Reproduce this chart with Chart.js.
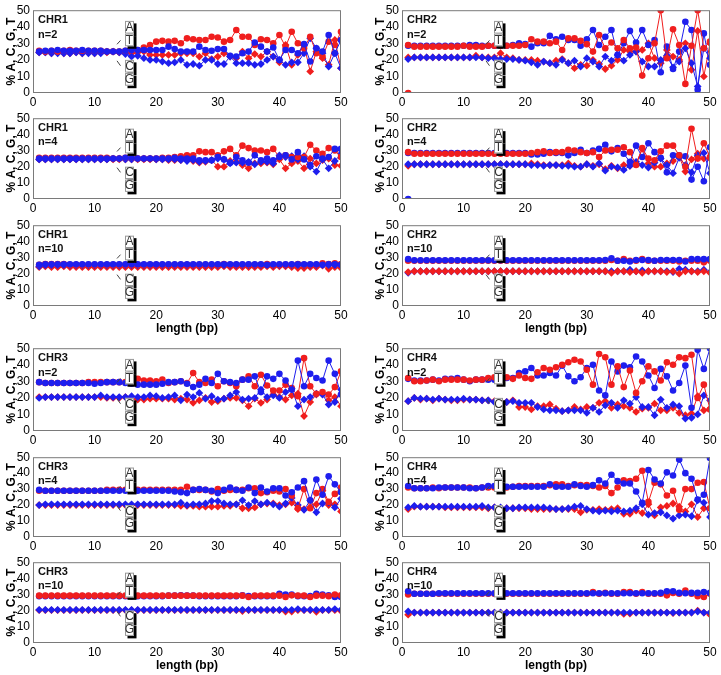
<!DOCTYPE html>
<html>
<head>
<meta charset="utf-8">
<script src="https://cdn.jsdelivr.net/npm/chart.js@4.4.0/dist/chart.umd.min.js"></script>
<style>
  body { margin: 0; background: #fff; width: 721px; height: 675px; overflow: hidden; position: relative; }
  canvas { position: absolute; }
</style>
</head>
<body>
<script>
// x positions (bp)
const lengthBp = [1,2,3,4,5,6,7,8,9,10,11,12,13,14,15,16,17,18,19,20,21,22,23,24,25,26,27,28,29,30,
  31,32,33,34,35,36,37,38,39,40,41,42,43,44,45,46,47,48,49,50];
const yTickStep = 10;
const xTickStep = 10;

// ---- CHR1 ----
const chr1n2A = [25.5,25,25.5,25,25.5,26,25.5,25.5,25.5,25.5, 25.5,25,25,25,25.5,26,26,27.5,29,31,
  31.5,31,31.5,30,33,32.5,32,32,34,33.5, 31,32,38,34,34,29,32.5,32,30,35, 28,37,30,27,34,24,22,31,29,37];
const chr1n2T = [25,25.5,25.5,26,25.5,25.5,25.5,26,25.5,25.5, 25.5,25,25,25,25.5,26,26,26,26,26,
  26,28,26.5,25,25,25,28,26,25.5,26.5, 26.5,22.5,22,24,25,30.5,28,25,27.5,20, 26,26,24,29.5,19,27,25,35,24,32];
const chr1n2C = [24.5,24.5,24,24.5,24,24,24.5,24,24.5,24, 24.5,24.5,25,24.5,24.5,24,24.5,25,23,23,
  23,23,23,24,24,24,22,24,20.5,22, 24,22,21,25,21,23.5,22,25,22,18.5, 29,17,23,29,13,25,21,17,32,15];
const chr1n2G = [24.5,24.5,24,24,24,24,24.5,24,24,24, 24,25,25,24.5,23.5,22,22.5,21,20,20,
  19,18,18.5,20,17,17.5,16.5,20,20,17.5, 17.5,22,18,18,18,17,17.5,20,22,20, 17,18.5,18.5,24,33,27,24,16,24,15];

const chr1n4A = [25.5,25.5,25.5,25.5,25.5,25.5,25.5,25.5,25.5,25.5, 25.5,25.5,25,25,25.5,25.5,25,25,25,25,
  25.5,25.5,26,26.5,27,27,29.5,29,29,27, 29.5,31,27,33,31.5,30,30,29,31,26, 27,26,26,26,33.5,30,28,31.5,30,26];
const chr1n4T = [25,25,25,25,25,25,25,25,25,25, 25,25,25,25,25.5,25.5,25,25,25,25,
  25,25,25.5,25,25,25,24,24,24,26, 24.5,22.5,26,24,22.5,27,24,25,24,26, 27,24.5,29,24.5,21,26.5,25,26,31,31];
const chr1n4C = [24.5,24.5,24.5,24.5,24.5,24.5,24.5,24.5,24.5,24.5, 24.5,24.5,24.5,24.5,24.5,24.5,24.5,24.5,24.5,24.5,
  24.5,24,24,24,24,23.5,22.5,23,24,20, 20,23.5,23,21,19,22,22,22.5,21.5,24.5, 19,22,23.5,19,25,22,24,25,21,20.5];
const chr1n4G = [24.5,24.5,24.5,24.5,24.5,24.5,24.5,24.5,24.5,24.5, 24.5,24.5,25,25,24.5,24.5,25,25,25,24.5,
  24.5,24.5,24.5,24,23.5,24,23,23.5,24,25, 24.5,22,22.5,22.5,23,21.5,23,23,22,27, 26,26.5,24.5,26.5,20,17,24.5,19,23.5,28];

const chr1n10A = [25.5,26,26,26,26,25.5,25.5,25.5,25.5,25.5, 25.5,25.5,25.5,25.5,25.5,25.5,25.5,25.5,25.5,25.5,
  25.5,25.5,25.5,25.5,25.5,25.5,25.5,25.5,25.5,25.5, 26,25.5,25.5,25.5,25.5,25.5,25.5,26,25.5,25.5, 25.5,25.5,26,25.5,25.5,25.5,26.5,26,26.5,26];
const chr1n10T = [25.5,25.8,25.8,25.8,25.8,25.8,25.8,25.8,25.8,25.8, 25.8,25.8,25.8,25.8,25.8,25.8,25.8,25.8,25.8,25.8,
  25.8,25.8,25.8,25.8,25.8,25.8,25.8,25.8,25.8,25.8, 25.8,25.8,25.8,25.8,25.8,25.8,25.8,25.5,25.8,25.8, 25.8,25.8,25.8,25.8,25.8,25.8,25.5,25.8,25.8,25.5];
const chr1n10C = [24,24.5,24,24,24.5,24,24,24,24,24, 24,24,24,24,24,24,24,24,24,24,
  24,24,24,24,24,24,24,24,24,24, 24.5,24,24,24,24,24,24,24.5,24,24.5, 24.5,24,23.5,23.5,24,24,25,23,24,23.5];
const chr1n10G = [24.5,25.3,25.3,25.3,25.3,25.3,25.3,25.3,25.3,25.3, 25.3,25.3,25.3,25.3,25.3,25.3,25.3,25.3,25.3,25.3,
  25.3,25.3,25.3,25.3,25.3,25.3,25.3,25.3,25.3,25.3, 25.3,25.3,25.3,25.3,25.3,25.3,25.3,25.3,25.3,25.3, 25.3,25.3,25.3,25.3,25.3,25.3,25.3,25.3,25.3,25.3];

// ---- CHR2 ----
const chr2n2A = [29,28,28,28,28,28,28,28,28,28.5, 28,28,28,28.5,28.5,28.5,28.5,28.5,28.5,29,
  32.5,31,31,30,31,26,33,33,31.5,29.5, 25,35,27,30.5,27,32,27,27.5,10.5,21, 30,50,21,38.5,29,5.5,28.5,50,27,31];
const chr2n2T = [28.5,28.5,28.5,28.5,28.5,28.5,28.5,28.5,28.5,28.5, 29,29,28.5,28.5,28.5,28.5,28.5,29,30,29.5,
  28,30,30,34.5,32.5,34,32,32,28.5,32.5, 38,29,34,38,23,30,37.5,30.5,38,29, 32,12.5,28,14.5,25,43,38,2,36,17];
const chr2n2C = [21.5,21.5,21.5,21.5,21.5,21.5,21.5,21.5,21.5,21.5, 21.5,22.5,21.5,21.5,21.5,24,21.5,21,20,20,
  20,19.5,19,18,19.5,20.5,18,15,17,16.5, 20,17.5,14.5,16.5,20,26,25,25,26,30, 21,18,26,22,20,30,14,37.5,10,30];
const chr2n2G = [20.5,21.5,21.5,21.5,21.5,21.5,21.5,21.5,21.5,21.5, 21.5,21.5,21.5,21,21,20.5,20.5,20.5,20,19.5,
  18.5,17,19,18,17,20,18,19.5,16,21, 19,16,22,19.5,23,19.5,23,25,19,16, 16,20,22.5,15.5,19,27,18,4,27,21];
const chr2n2Dropout = [0];

const chr2n4A = [29,28,28,28,28,28,28,28,28,28, 28,28,28,28,28,28,28,28,28,28,
  28.5,29,29.5,28.5,29,29,30.5,30,29,28.5, 29,26,30,30.5,30.5,32,29,21,31.5,25, 24,29.5,33,33,27,20,43.5,25,34.5,26];
const chr2n4T = [28.5,28.5,28.5,28.5,28.5,28.5,28.5,28.5,28.5,28.5, 28.5,28.5,28.5,28.5,28.5,28.5,28.5,28.5,28.5,28.5,
  27.5,27.5,28,29,28.5,28.5,27,28.5,30.5,28.5, 30,31,33.5,29.5,31.5,28,23,33,26,34.5, 29,25.5,16.5,27,27,26.5,12,20,11,32];
const chr2n4C = [20.5,21.5,21.5,21.5,21.5,21.5,21.5,21.5,21.5,21.5, 21.5,21.5,21.5,21.5,21.5,21.5,21.5,21.5,21.5,21.5,
  22,21.5,21,21,21,21,22,20.5,20,21.5, 20.5,21.5,18.5,20.5,19,21,20.5,22,31,22, 20,20,22,23.5,26,17,24.5,28,25,25];
const chr2n4G = [21.5,21.5,21.5,21.5,21.5,21.5,21.5,21.5,21.5,21.5, 21.5,21.5,21.5,21.5,21.5,21.5,21.5,21.5,21.5,21.5,
  21,21,20.5,21,21,20.5,20.5,20,20,21.5, 20,22,17.5,20,19.5,18,20.5,23,21,19.5, 22.5,25,21,16,25.5,21,16.5,27,28.5,16];
const chr2n4Dropout = [0];

const chr2n10A = [28,28,28,28,28,28,28,28,28,28, 28,28,28,28,28,28,28,28,28,28,
  28,28,28,28,28,28,28,28,28,28, 28,28,28,28.5,28,29,28,28,29,28, 28,28,28,28,27.5,28,28,28,27,28];
const chr2n10T = [29,28.3,28.3,28.3,28.3,28.3,28.3,28.3,28.3,28.3, 28.3,28.3,28.3,28.3,28.3,28.3,28.3,28.3,28.3,28.3,
  28.3,28.3,28.3,28.3,28.3,28.3,28.3,28.3,28.3,28.3, 28.3,28.3,28.5,29.5,28,28,27.5,28.5,28.5,28.5, 28,28.5,28.5,28.5,28.5,27.5,29,29,29,29];
const chr2n10C = [21,21.5,21.5,21.5,21.5,21.5,21.5,21.5,21.5,21.5, 21.5,21.5,21.5,21.5,21.5,21.5,21.5,21.5,21.5,21.5,
  21.5,21.5,21.5,21.5,21.5,21.5,21.5,21.5,21.5,21.5, 21.5,21.5,21.5,20.5,21.5,21.5,21,21.5,20.5,21.5, 21.5,21.5,21,21.5,20,21.5,21.5,21,21.5,20.5];
const chr2n10G = [20.5,21.5,21.5,21.5,21.5,21.5,21.5,21.5,21.5,21.5, 21.5,21.5,21.5,21.5,21.5,21.5,21.5,21.5,21.5,21.5,
  21.5,21.5,21.5,21.5,21.5,21.5,21.5,21.5,21.5,21.5, 21.5,21.5,21.5,21.5,21.5,21.5,22.5,21.5,22,21.5, 21.5,21.5,21.5,21,23,22.5,21.5,21.5,22.5,21];

// ---- CHR3 ----
const chr3n2A = [29.5,29,29,29,29,29,29,29,29.5,29.5, 29.5,29.5,29.5,29.5,29.5,30.5,31.5,30.5,30.5,30,
  31,29,29.5,30,29,35,29.5,29,31,27, 30,29,27,31,33,27,34,27.5,24.5,24.5, 28,26,21,44,27,22.5,23.5,22,26.5,36];
const chr3n2T = [29.5,29,29,29,29,29,29,29,29,28.5, 29,29.5,29.5,29.5,29,28.5,28,28,28,28,
  28.5,29.5,29.5,30,28.5,26.5,28,31.5,29,34.5, 30,29.5,29,31,31,33,23.5,33,31.5,34.5, 30.5,25,42.5,27,34.5,32,30.5,42.5,34.5,22];
const chr3n2C = [20.5,20.5,20.5,20.5,20.5,20.5,20.5,20.5,20.5,20.5, 20.5,20,20,20,20.5,19.5,19,19,19.5,19.5,
  19.5,19.5,19,19.5,19,17,18.5,20,17.5,18, 19.5,20,20,18.5,15,19.5,17,19,22,20.5, 19,21.5,22.5,9,17.5,22,22.5,18.5,20.5,15];
const chr3n2G = [20,20.5,20.5,20.5,20.5,20.5,20.5,20.5,20.5,20.5, 21.5,20.5,20.5,20.5,20.5,21,20.5,20.5,21.5,21,
  20,20.5,21.5,18.5,22,20.5,23,19.5,21,19, 19.5,21.5,23.5,19,19.5,20,25,20.5,21.5,20, 23.5,25.5,15,19,20.5,22.5,22,16,17.5,25];

const chr3n4A = [29,29,29,29,29,29,29,29,29,29, 29,29.5,29.5,29.5,29.5,29.5,29.5,29.5,29.5,29.5,
  29.5,29.5,29.5,29.5,31.5,29.5,29.5,29.5,28.5,30, 29,29.5,29.5,29.5,30.5,30.5,27.5,28,29,28.5, 30,26,18,30,18,27.5,30,22,27,31];
const chr3n4T = [29.5,29,29,29,29,29,29,29,29,29, 29,29,29,29,29,29,29,29,29,29,
  29,29,28.5,28,27.5,29.5,30,29.5,29,27.5, 29.5,31,29.5,29,31,27.5,31,28.5,30.5,30.5, 26,28,31,35,23,36,26.5,38,33,28];
const chr3n4C = [20,20,20,20,20,20,20,20,20,20, 20,20,20,20,20,20,20,20,20,20,
  20,20,20,19.5,19.5,19.5,19,19,19,19, 19.5,19.5,20.5,18,18,18.5,20.5,21,21,20, 20.5,21.5,17.5,17.5,18.5,20.5,29,20,20.5,16];
const chr3n4G = [20,20.5,20.5,20.5,20.5,20.5,20.5,20.5,20.5,20.5, 20.5,20.5,20.5,20.5,20.5,20.5,20.5,20.5,20.5,20.5,
  20.5,20.5,20.5,21.5,20,20.5,20.5,21,22.5,22.5, 21,20.5,20.5,23,20,22.5,20.5,21.5,20.5,19, 21,24.5,20,17,23,15.5,21,21.5,18.5,24];

const chr3n10A = [29.3,29.3,29.3,29.3,29.3,29.3,29.3,29.3,29.3,29.3, 29.3,29.3,29.3,29.3,29.3,29.3,29.3,29.3,29.3,29.3,
  29.3,29.3,29.3,29.3,29.3,29.3,29.3,29.3,29.3,29.3, 29.3,29.3,29.3,29.3,28.5,29.3,29.3,29.3,29.3,29.3, 28.5,29.5,29.3,29.3,28.5,29.3,29.3,29,30,29.5];
const chr3n10T = [29,29,29,29,29,29,29,29,29,29, 29,29,29,29,29,29,29,29,29,29,
  29,29.3,29.3,29.5,29.3,29.3,29,29,29,29, 29,29,29,29.5,29,29,29,29,29,30.5, 30,30,29,29,29,30.5,30,29.5,28.5,28.5];
const chr3n10C = [20.3,20.3,20.3,20.3,20.3,20.3,20.3,20.3,20.3,20.3, 20.3,20.3,20.3,20.3,20.3,20.3,20.3,20.3,20.3,20.3,
  20.3,20.3,20.3,20.3,20.3,20.3,20.3,20.3,20.3,20.3, 20.3,20.3,20.3,19.8,20.3,20.3,20.3,20.3,20.3,20.3, 19.5,19.5,20.3,20.3,20.3,19.3,20.3,20.3,20.3,19.8];
const chr3n10G = [20.5,20.5,20.5,20.5,20.5,20.5,20.5,20.5,20.5,20.5, 20.5,20.5,20.5,20.5,20.5,20.5,20.5,20.5,20.5,20.5,
  20.5,20.5,20.5,20.5,20.5,20.5,20.5,20.5,20.5,20.5, 20.5,20.5,20.5,20.5,20.5,20.5,20.5,20.5,20.5,20.5, 20.5,20.5,21,20.5,20.5,20.5,20.5,20.5,21,20.5];

// ---- CHR4 ----
const chr4n2A = [32,30,30,30.5,31,30,31,31,31,31, 30.5,31,31,32,32.5,32.5,32.5,31.5,33.5,32,
  31.5,35.5,38,37,38.5,40,41.5,43,42,37, 28,46.5,44.5,28,39,26.5,36.5,23,30,39, 36,30.5,41.5,40,44.5,44,46,20,28,13];
const chr4n2T = [31.5,30.5,30.5,30.5,31,30.5,31.5,31.5,32,31, 30,31,31,31,31,31.5,32,32,35,36,
  38,33.5,33.5,35,33.5,39.5,33,30,32.5,38, 40,24.5,21.5,42,36,39.5,38.5,45,42,33.5, 26,37.5,33,24.5,29,39.5,14,49,37.5,50];
const chr4n2C = [18,20,19,19.5,18.5,19.5,19,18.5,18.5,19, 19,19,18.5,18.5,18,17.5,17.5,18.5,14.5,14.5,
  13,15,15,16,13.5,12,12.5,14.5,13,14.5, 14,17,18,14,16,15,14,11.5,13.5,14, 16.5,12.5,12.5,14,11,9.5,10.5,21,12.5,13.5];
const chr4n2G = [18,20,19.5,19.5,19,19.5,19,19,19,19.5, 19,19,18.5,18.5,17.5,17,17.5,18,17,17,
  17,14.5,13,12.5,12.5,12,12.5,12.5,12.5,11, 14,11.5,15.5,17,14,18.5,16.5,20.5,14.5,14.5, 9.5,19,14,16,15,7.5,8,10,21.5,18.5];

const chr4n4A = [31,30.5,30.5,30.5,31,30.5,31,31,31,31, 31,30.5,31,31,31,31.5,31,31.5,32,32,
  32,32,32,32.5,33,33,32,32.5,32.5,32.5, 32,31,32,27.5,31,35.5,35,36.5,41.5,22, 34,33,26,29,17,30,30,34,34.5,18];
const chr4n4T = [32,30.5,30.5,30.5,30.5,31,31,31,31,31, 30.5,30.5,31,32,32,31.5,31.5,31.5,31.5,31.5,
  31.5,31.5,31.5,33,31.5,31.5,31.5,33,32,31.5, 32.5,35.5,33.5,39,35,33.5,33.5,28.5,21.5,42, 36,33.5,40.5,38.5,48.5,40,36.5,23.5,26.5,49.5];
const chr4n4C = [17.5,19,19,19,19,19,18.5,18.5,18.5,18.5, 18.5,18.5,18.5,18,18.5,18,18,18,18,18,
  17.5,17.5,17.5,17.5,17.5,17.5,17.5,17.5,15.5,17, 17,17.5,17,17.5,18,14.5,14.5,16.5,15,20.5, 13.5,18.5,19.5,21,19,16,20.5,12.5,18,18];
const chr4n4G = [18.5,19.5,19,19,19,19,19,19,19,19, 19,19,19.5,18.5,18.5,18.5,18,18,18.5,18.5,
  18.5,18.5,18.5,18,17.5,17.5,18,19,19.5,17.5, 16.5,16,16.5,16,16.5,16,16.5,18,20.5,14, 15,15.5,13.5,11.5,13.5,14,13,23,21.5,12.5];

const chr4n10A = [30,30.5,30.5,30.5,30.5,30.5,30.5,30.5,30.5,30.5, 30.5,30.5,30.5,30.5,30.5,30.5,30.5,30.5,30.5,30.5,
  30.5,30.5,30.5,30.5,30.5,30.5,30.5,30.5,30.5,30.5, 31.5,30.5,31,30.5,30.5,31.5,31.5,30.5,31.5,30.5, 30.5,30.5,29.5,31,30.5,32.5,30.5,29,28.5,30.5];
const chr4n10T = [32,30.5,30.5,30.5,30.5,30.8,30.8,30.8,30.8,30.8, 30.8,30.8,30.8,30.8,30.8,30.8,30.8,30.8,30.8,30.8,
  30.8,30.8,30.8,30.8,30.8,30.8,30.8,30.8,30.8,30.8, 30.8,30.8,30.8,30.8,30.8,30.8,30.8,30.8,30.8,30.8, 30.8,31,32,32,31,30.8,31,31,31.5,31];
const chr4n10C = [17.5,18.8,18.8,18.8,18.8,18.8,18.8,18.8,18.8,18.8, 18.8,18.8,18.8,18.8,18.8,18.8,18.8,18.8,18.8,18.8,
  18.8,18.8,18.8,18.8,18.8,18.8,18.8,18.8,18.8,18.8, 18.8,18.8,18.8,18.8,18.8,18,18.2,18.8,18.8,18.8, 18.8,18.8,18.8,18.5,18.8,18.8,18.8,20,18.8,17.5];
const chr4n10G = [19.5,18.8,18.8,18.8,18.8,18.8,18.8,18.8,18.8,18.8, 18.8,18.8,18.8,18.8,18.8,18.8,18.8,18.8,18.8,18.8,
  18.8,18.8,18.8,18.8,18.8,18.8,18.8,18.8,18.8,18.8, 18.8,18.8,18.8,18.8,18.8,18.8,18.8,18.8,18.8,18.8, 18.8,18.8,18.8,18.8,18.8,18.8,18.8,19.5,18.8,18.8];

const RED = '#f01e1e';
const BLUE = '#1e1eee';
const FONT = 'Arial, "Liberation Sans", sans-serif';

// plot-area geometry of the grid
const colLeft = [33, 402];
const rowTop = [8, 116, 223, 346, 455, 560];
const rowH = [85, 83, 83, 85, 82, 83];
const rowTitle = [false, false, true, false, false, true];
const plotW = 308;

// redTop: [upper pair, lower pair] - which colour sits on top
const panels = [
  { chr: 'CHR1', n: 'n=2',  col: 0, row: 0, A: chr1n2A,  T: chr1n2T,  C: chr1n2C,  G: chr1n2G,  redTop: [false, false] },
  { chr: 'CHR1', n: 'n=4',  col: 0, row: 1, A: chr1n4A,  T: chr1n4T,  C: chr1n4C,  G: chr1n4G,  redTop: [false, false] },
  { chr: 'CHR1', n: 'n=10', col: 0, row: 2, A: chr1n10A, T: chr1n10T, C: chr1n10C, G: chr1n10G, redTop: [false, false] },
  { chr: 'CHR2', n: 'n=2',  col: 1, row: 0, A: chr2n2A,  T: chr2n2T,  C: chr2n2C,  G: chr2n2G,  redTop: [true, false], drop: chr2n2Dropout, dropColor: RED },
  { chr: 'CHR2', n: 'n=4',  col: 1, row: 1, A: chr2n4A,  T: chr2n4T,  C: chr2n4C,  G: chr2n4G,  redTop: [true, false], drop: chr2n4Dropout, dropColor: BLUE },
  { chr: 'CHR2', n: 'n=10', col: 1, row: 2, A: chr2n10A, T: chr2n10T, C: chr2n10C, G: chr2n10G, redTop: [false, true] },
  { chr: 'CHR3', n: 'n=2',  col: 0, row: 3, A: chr3n2A,  T: chr3n2T,  C: chr3n2C,  G: chr3n2G,  redTop: [false, false] },
  { chr: 'CHR3', n: 'n=4',  col: 0, row: 4, A: chr3n4A,  T: chr3n4T,  C: chr3n4C,  G: chr3n4G,  redTop: [false, false] },
  { chr: 'CHR3', n: 'n=10', col: 0, row: 5, A: chr3n10A, T: chr3n10T, C: chr3n10C, G: chr3n10G, redTop: [true, false] },
  { chr: 'CHR4', n: 'n=2',  col: 1, row: 3, A: chr4n2A,  T: chr4n2T,  C: chr4n2C,  G: chr4n2G,  redTop: [true, false] },
  { chr: 'CHR4', n: 'n=4',  col: 1, row: 4, A: chr4n4A,  T: chr4n4T,  C: chr4n4C,  G: chr4n4G,  redTop: [false, false] },
  { chr: 'CHR4', n: 'n=10', col: 1, row: 5, A: chr4n10A, T: chr4n10T, C: chr4n10C, G: chr4n10G, redTop: [false, false] }
];

function toPoints(values) {
  return values.map((v, i) => ({ x: lengthBp[i], y: v }));
}

function series(values, color, shape, order) {
  const r = shape === 'rectRot' ? 3.9 : 3.3;
  return {
    data: toPoints(values),
    borderColor: color,
    backgroundColor: color,
    borderWidth: 1,
    pointStyle: shape,
    pointRadius: r,
    pointBorderWidth: 0,
    order: order
  };
}

// frame, panel label and the A/T, C/G boxes
function makeDeco(p) {
  return {
    id: 'deco',
    afterDraw(chart) {
      const { ctx, chartArea: a } = chart;
      const w = a.right - a.left, h = a.bottom - a.top, k = h / 85;
      ctx.save();
      ctx.strokeStyle = '#7a7a7a';
      ctx.lineWidth = 1;
      ctx.strokeRect(a.left + 0.5, a.top + 0.5, w - 1, h - 1);

      ctx.fillStyle = '#111';
      ctx.font = 'bold 11px ' + FONT;
      ctx.textAlign = 'left';
      ctx.textBaseline = 'middle';
      ctx.fillText(p.chr, a.left + 5, a.top + 10 * k);
      ctx.fillText(p.n, a.left + 5, a.top + 25 * k);

      // little pointer strokes
      ctx.strokeStyle = '#444';
      ctx.beginPath();
      ctx.moveTo(a.left + 84, a.top + 35 * k);
      ctx.lineTo(a.left + 87.5, a.top + 31 * k);
      ctx.moveTo(a.left + 84, a.top + 52 * k);
      ctx.lineTo(a.left + 87.5, a.top + 57 * k);
      ctx.stroke();

      const bx = a.left + 92, bw = 9;
      const boxes = [['A', 11], ['T', 24], ['C', 51], ['G', 64.5]];
      ctx.fillStyle = '#000';
      boxes.forEach(([, t]) => {
        ctx.fillRect(bx + 2.5, a.top + t * k + 2.5, bw, 13 * k);
      });
      ctx.font = '12px ' + FONT;
      ctx.textAlign = 'center';
      boxes.forEach(([letter, t]) => {
        const y = a.top + t * k;
        ctx.fillStyle = '#fff';
        ctx.fillRect(bx, y, bw, 13 * k);
        ctx.strokeStyle = '#999';
        ctx.strokeRect(bx + 0.5, y + 0.5, bw - 1, 13 * k - 1);
        ctx.fillStyle = '#333';
        ctx.fillText(letter, bx + bw / 2, y + 6.8 * k);
      });
      ctx.restore();
    }
  };
}

panels.forEach(p => {
  const hasTitle = rowTitle[p.row];
  const xh = hasTitle ? 30 : 16;
  const cv = document.createElement('canvas');
  cv.width = plotW + 33 + 10;
  cv.height = 8 + rowH[p.row] + xh;
  cv.style.left = (colLeft[p.col] - 33) + 'px';
  cv.style.top = (rowTop[p.row] - 8) + 'px';
  document.body.appendChild(cv);

  const up = p.redTop[0] ? [0, 1] : [1, 0];
  const lo = p.redTop[1] ? [2, 3] : [3, 2];
  const datasets = [
    series(p.A, RED, 'circle', up[0]),
    series(p.T, BLUE, 'circle', up[1]),
    series(p.C, RED, 'rectRot', lo[0]),
    series(p.G, BLUE, 'rectRot', lo[1])
  ];
  if (p.drop) {
    datasets.push({
      data: toPoints(p.drop), showLine: false, pointRadius: 3.3, pointBorderWidth: 0,
      backgroundColor: p.dropColor, borderColor: p.dropColor, order: 4
    });
  }

  new Chart(cv, {
    type: 'line',
    data: { datasets },
    options: {
      responsive: false,
      animation: false,
      layout: { padding: { top: 8, right: 10, left: 0, bottom: 0 } },
      plugins: { legend: { display: false }, tooltip: { enabled: false } },
      scales: {
        x: {
          type: 'linear', min: 0, max: 50,
          ticks: { stepSize: xTickStep, autoSkip: false, padding: 2, color: '#000', maxRotation: 0, font: { size: 12, family: FONT } },
          grid: { display: false, drawTicks: false },
          border: { display: false },
          title: {
            display: hasTitle, text: 'length (bp)', color: '#000',
            font: { size: 12, weight: 'bold', family: FONT }, padding: { top: 2, bottom: 0 }
          },
          afterFit: s => { s.height = xh; }
        },
        y: {
          min: 0, max: 50,
          ticks: { stepSize: yTickStep, autoSkip: false, padding: 3, color: '#000', font: { size: 12, family: FONT } },
          grid: { display: false, drawTicks: false },
          border: { display: false },
          title: {
            display: true, text: '% A, C, G, T', color: '#000',
            font: { size: 12, weight: 'bold', family: FONT }, padding: { top: 4, bottom: 0 }
          },
          afterFit: s => { s.width = 33; }
        }
      }
    },
    plugins: [makeDeco(p)]
  });
});
</script>
</body>
</html>
